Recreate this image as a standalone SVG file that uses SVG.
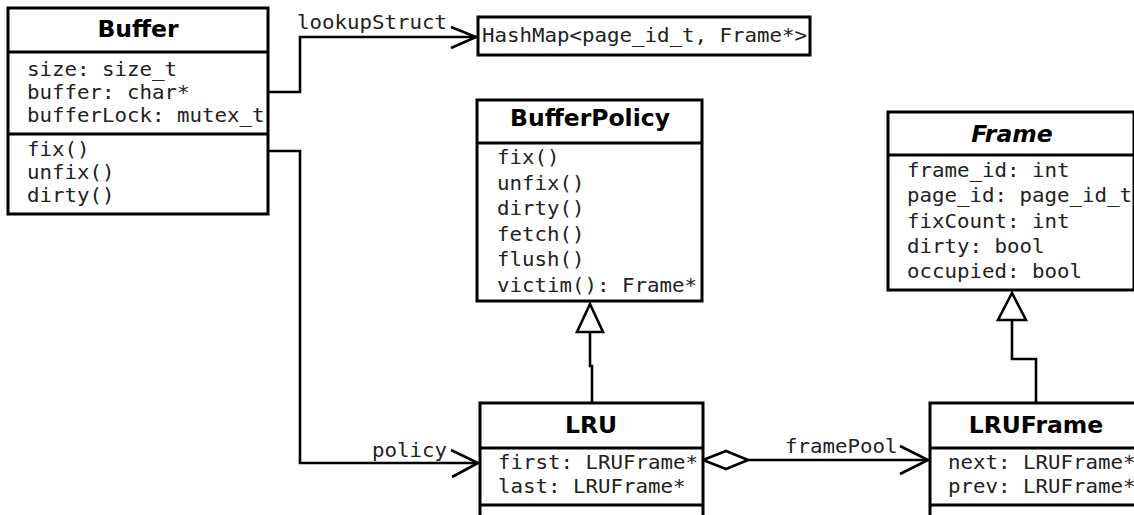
<svg xmlns="http://www.w3.org/2000/svg" width="1134" height="515" viewBox="0 0 1134 515">
<style>
.box{fill:#fff;stroke:#000;stroke-width:3}
.sep{stroke:#000;stroke-width:3}
.ln{fill:none;stroke:#000;stroke-width:2.6;stroke-linejoin:miter}
.title{font-family:"DejaVu Sans",sans-serif;font-weight:bold;font-size:23.5px;fill:#000;text-anchor:middle}
.it{font-style:italic}
.m{font-family:"DejaVu Sans Mono","Liberation Mono",monospace;font-size:19px;fill:#222}
</style>
<rect width="1134" height="515" fill="#fff"/>
<g id="connectors">
  <polyline class="ln" points="268,92 300,92 300,37 476,37"/>
  <polyline class="ln" points="451,27 476,37 451,48"/>
  <text class="m" x="297" y="29" textLength="150" lengthAdjust="spacingAndGlyphs">lookupStruct</text>
  <polyline class="ln" points="268,151 300,151 300,463 478,463"/>
  <polyline class="ln" points="451,450 478,463 452,477"/>
  <text class="m" x="372" y="457" textLength="75" lengthAdjust="spacingAndGlyphs">policy</text>
  <polyline class="ln" points="592,403 592,366 590,366 590,332"/>
  <polygon class="ln" points="590,304 577,332 603,332" style="fill:#fff"/>
  <polyline class="ln" points="1036,403 1036,359 1012,359 1012,320"/>
  <polygon class="ln" points="1012,293 998,320 1026,320" style="fill:#fff"/>
  <line class="ln" x1="748" y1="460" x2="928" y2="460"/>
  <polygon class="ln" points="703,460 726,451 748,460 726,469" style="fill:#fff"/>
  <polyline class="ln" points="900,446 928,460 900,474"/>
  <text class="m" x="785" y="453" textLength="112.5" lengthAdjust="spacingAndGlyphs">framePool</text>
</g>
<g id="Buffer">
  <rect class="box" x="8" y="8" width="260" height="206"/>
  <line class="sep" x1="8" y1="52" x2="268" y2="52"/>
  <line class="sep" x1="8" y1="134" x2="268" y2="134"/>
  <text class="title" x="138" y="37">Buffer</text>
  <text class="m" x="27" y="76" textLength="150" lengthAdjust="spacingAndGlyphs">size: size_t</text>
  <text class="m" x="27" y="99" textLength="162.5" lengthAdjust="spacingAndGlyphs">buffer: char*</text>
  <text class="m" x="27" y="122" textLength="237.5" lengthAdjust="spacingAndGlyphs">bufferLock: mutex_t</text>
  <text class="m" x="27" y="156" textLength="62.5" lengthAdjust="spacingAndGlyphs">fix()</text>
  <text class="m" x="27" y="179" textLength="87.5" lengthAdjust="spacingAndGlyphs">unfix()</text>
  <text class="m" x="27" y="202" textLength="87.5" lengthAdjust="spacingAndGlyphs">dirty()</text>
</g>
<g id="HashMap">
  <rect class="box" x="478" y="17" width="332" height="38"/>
  <text class="m" x="482" y="42" textLength="325" lengthAdjust="spacingAndGlyphs">HashMap&lt;page_id_t, Frame*&gt;</text>
</g>
<g id="BufferPolicy">
  <rect class="box" x="477" y="100" width="225" height="201"/>
  <line class="sep" x1="477" y1="143" x2="702" y2="143"/>
  <text class="title" x="590" y="126">BufferPolicy</text>
  <text class="m" x="497" y="164" textLength="62.5" lengthAdjust="spacingAndGlyphs">fix()</text>
  <text class="m" x="497" y="190" textLength="87.5" lengthAdjust="spacingAndGlyphs">unfix()</text>
  <text class="m" x="497" y="215" textLength="87.5" lengthAdjust="spacingAndGlyphs">dirty()</text>
  <text class="m" x="497" y="241" textLength="87.5" lengthAdjust="spacingAndGlyphs">fetch()</text>
  <text class="m" x="497" y="266" textLength="87.5" lengthAdjust="spacingAndGlyphs">flush()</text>
  <text class="m" x="497" y="292" textLength="200" lengthAdjust="spacingAndGlyphs">victim(): Frame*</text>
</g>
<g id="Frame">
  <rect class="box" x="888" y="112" width="246" height="178"/>
  <line class="sep" x1="888" y1="155" x2="1134" y2="155"/>
  <text class="title it" x="1012" y="142">Frame</text>
  <text class="m" x="907" y="177" textLength="162.5" lengthAdjust="spacingAndGlyphs">frame_id: int</text>
  <text class="m" x="907" y="202" textLength="225" lengthAdjust="spacingAndGlyphs">page_id: page_id_t</text>
  <text class="m" x="907" y="228" textLength="162.5" lengthAdjust="spacingAndGlyphs">fixCount: int</text>
  <text class="m" x="907" y="253" textLength="137.5" lengthAdjust="spacingAndGlyphs">dirty: bool</text>
  <text class="m" x="907" y="278" textLength="175" lengthAdjust="spacingAndGlyphs">occupied: bool</text>
</g>
<g id="LRU">
  <rect class="box" x="480" y="403" width="223" height="130"/>
  <line class="sep" x1="480" y1="448" x2="703" y2="448"/>
  <line class="sep" x1="480" y1="505" x2="703" y2="505"/>
  <text class="title" x="591" y="433">LRU</text>
  <text class="m" x="498" y="469" textLength="200" lengthAdjust="spacingAndGlyphs">first: LRUFrame*</text>
  <text class="m" x="498" y="493" textLength="187.5" lengthAdjust="spacingAndGlyphs">last: LRUFrame*</text>
</g>
<g id="LRUFrame">
  <rect class="box" x="930" y="403" width="220" height="130"/>
  <line class="sep" x1="930" y1="448" x2="1150" y2="448"/>
  <line class="sep" x1="930" y1="505" x2="1150" y2="505"/>
  <text class="title" x="1036" y="433">LRUFrame</text>
  <text class="m" x="948" y="469" textLength="187.5" lengthAdjust="spacingAndGlyphs">next: LRUFrame*</text>
  <text class="m" x="948" y="493" textLength="187.5" lengthAdjust="spacingAndGlyphs">prev: LRUFrame*</text>
</g>
</svg>
